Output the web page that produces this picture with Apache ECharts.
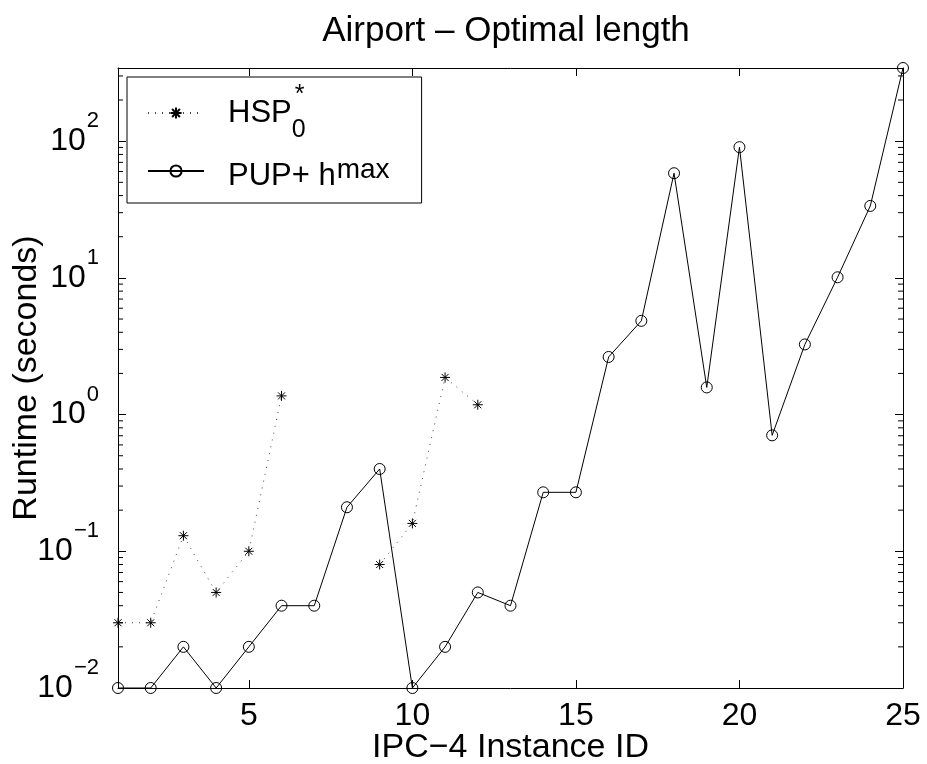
<!DOCTYPE html>
<html>
<head>
<meta charset="utf-8">
<script src="https://cdn.jsdelivr.net/npm/echarts@6/dist/echarts.min.js"></script>
<style>
  html, body { margin: 0; padding: 0; background: #fff; }
  #chart { width: 927px; height: 764px; }
</style>
</head>
<body>
<div id="chart"></div>
<script>
const FONT = 'Liberation Sans, Arial, Helvetica, sans-serif';

// IPC-4 instance ids (x categories)
const instanceIds = ['1', '2', '3', '4', '5', '6', '7', '8', '9', '10', '11', '12', '13',
  '14', '15', '16', '17', '18', '19', '20', '21', '22', '23', '24', '25'];

// runtimes in seconds, null = not solved
const hspRuntime = [0.03, 0.03, 0.13, 0.05, 0.1, 1.37, null, null, 0.08, 0.16, 1.87, 1.18,
  null, null, null, null, null, null, null, null, null, null, null, null, null];
const pupRuntime = [0.01, 0.01, 0.02, 0.01, 0.02, 0.04, 0.04, 0.21, 0.4, 0.01, 0.02, 0.05, 0.04,
  0.27, 0.27, 2.64, 4.85, 58.3, 1.58, 90.4, 0.705, 3.26, 10.1, 33.6, 343];

const yMin = 0.01;
const yMax = 343;
const xTickLabels = ['5', '10', '15', '20', '25'];
const minorTicks = [0.02, 0.03, 0.04, 0.05, 0.06, 0.07, 0.08, 0.09,
  0.2, 0.3, 0.4, 0.5, 0.6, 0.7, 0.8, 0.9,
  2, 3, 4, 5, 6, 7, 8, 9,
  20, 30, 40, 50, 60, 70, 80, 90,
  200, 300];

const ASTERISK = 'path://M5 0L5 10M0 5L10 5M1.5 1.5L8.5 8.5M1.5 8.5L8.5 1.5';

const showX = (i) => xTickLabels.indexOf(instanceIds[i]) >= 0;

function powLabel(v) {
  const e = Math.round(Math.log10(v));
  if (Math.abs(Math.log10(v) - e) > 1e-6) return '';
  return '{b|10}{s|' + (e < 0 ? '\u2212' + (-e) : e) + '}';
}

const chart = echarts.init(document.getElementById('chart'));

const xBase = {
  type: 'category',
  data: instanceIds,
  boundaryGap: false,
  axisLine: { lineStyle: { color: '#000', width: 1 } },
  axisTick: { inside: true, length: 8, interval: showX, lineStyle: { color: '#000' } },
  splitLine: { show: false },
};
const yBase = {
  type: 'log',
  logBase: 10,
  min: yMin,
  max: yMax,
  axisLine: { show: true, lineStyle: { color: '#000', width: 1 } },
  axisTick: { show: true, inside: true, length: 8, lineStyle: { color: '#000' } },
  splitLine: { show: false },
};

chart.setOption({
  animation: false,
  backgroundColor: '#fff',
  title: {
    text: 'Airport \u2013 Optimal length',
    left: 501,
    textAlign: 'center',
    top: 9,
    textStyle: { fontFamily: FONT, fontSize: 35, fontWeight: 'normal', color: '#000' },
  },
  grid: { left: 118, right: 24, top: 68, bottom: 76, outerBoundsMode: 'none', containLabel: false },
  legend: {
    data: ['HSP', 'PUP'],
    orient: 'vertical',
    left: 127,
    top: 77,
    padding: [6, 32, 11, 20],
    itemGap: 5,
    itemWidth: 56,
    itemHeight: 14,
    borderColor: '#000',
    borderWidth: 1,
    backgroundColor: '#fff',
    formatter: (name) => name === 'HSP'
      ? '{m|HSP}{sub|0}{sup|*}'
      : '{m2|PUP+ h}{sup2|max}',
    textStyle: {
      fontFamily: FONT,
      color: '#000',
      rich: {
        m: { fontFamily: FONT, fontSize: 31, lineHeight: 60, padding: [0, 0, 0, 19], verticalAlign: 'middle' },
        sub: { fontFamily: FONT, fontSize: 25, lineHeight: 18, width: 0, verticalAlign: 'bottom' },
        sup: { fontFamily: FONT, fontSize: 25, lineHeight: 29, padding: [0, 0, 0, 3], verticalAlign: 'top' },
        m2: { fontFamily: FONT, fontSize: 31, lineHeight: 46, padding: [13, 0, 0, 19], verticalAlign: 'top' },
        sup2: { fontFamily: FONT, fontSize: 28, lineHeight: 28, padding: [8, 0, 0, 1], verticalAlign: 'top' },
      },
    },
  },
  xAxis: [
    Object.assign({}, xBase, {
      position: 'bottom',
      name: 'IPC\u22124 Instance ID',
      nameLocation: 'middle',
      nameGap: 43,
      nameMoveOverlap: false,
      nameTextStyle: { fontFamily: FONT, fontSize: 34, color: '#000' },
      axisLabel: { interval: showX, margin: 12, fontFamily: FONT, fontSize: 32, color: '#000' },
    }),
    Object.assign({}, xBase, { position: 'top', axisLabel: { show: false } }),
  ],
  yAxis: [
    Object.assign({}, yBase, {
      position: 'left',
      name: 'Runtime (seconds)',
      nameLocation: 'middle',
      nameGap: 74,
      nameMoveOverlap: false,
      nameTextStyle: { fontFamily: FONT, fontSize: 34, color: '#000' },
      axisLabel: {
        margin: 19,
        formatter: powLabel,
        rich: {
          b: { fontFamily: FONT, fontSize: 32, color: '#000', lineHeight: 62, verticalAlign: 'middle' },
          s: { fontFamily: FONT, fontSize: 22, color: '#000', lineHeight: 22, padding: [0, 0, 0, 1], verticalAlign: 'top' },
        },
      },
    }),
    Object.assign({}, yBase, { position: 'right', axisLabel: { show: false } }),
  ],
  series: [
    {
      name: 'HSP',
      type: 'line',
      data: hspRuntime,
      connectNulls: false,
      clip: false,
      symbol: ASTERISK,
      symbolSize: 10,
      itemStyle: { color: '#000', borderColor: '#000', borderWidth: 1 },
      lineStyle: { color: '#444', width: 1, type: [1, 6] },
      emphasis: { disabled: true },
    },
    {
      name: 'PUP',
      type: 'line',
      data: pupRuntime,
      clip: false,
      symbol: 'circle',
      symbolSize: 11,
      itemStyle: { color: 'transparent', borderColor: '#000', borderWidth: 1 },
      lineStyle: { color: '#000', width: 1 },
      emphasis: { disabled: true },
    },
    {
      // log minor ticks on both vertical edges
      type: 'custom',
      silent: true,
      data: minorTicks.map((v) => [0, v]),
      renderItem: (params, api) => {
        const v = api.value(1);
        const l = api.coord([0, v]);
        const r = api.coord([instanceIds.length - 1, v]);
        return {
          type: 'group',
          children: [
            { type: 'line', shape: { x1: l[0], y1: l[1], x2: l[0] + 5, y2: l[1] }, style: { stroke: '#000', lineWidth: 1 } },
            { type: 'line', shape: { x1: r[0], y1: r[1], x2: r[0] - 5, y2: r[1] }, style: { stroke: '#000', lineWidth: 1 } },
          ],
        };
      },
    },
  ],
});
</script>
</body>
</html>
